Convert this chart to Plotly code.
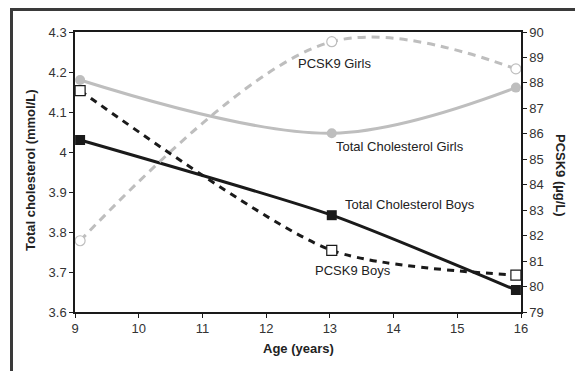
import plotly.graph_objects as go

ages = [9.08, 13.03, 15.92]
tc_boys = [4.03, 3.842, 3.655]
tc_girls = [4.18, 4.047, 4.161]
pcsk9_boys = [87.7, 81.42, 80.45]
pcsk9_girls = [81.8, 89.62, 88.55]

x_ticks = [9, 10, 11, 12, 13, 14, 15, 16]
left_ticks = [3.6, 3.7, 3.8, 3.9, 4.0, 4.1, 4.2, 4.3]
left_labels = ["3.6", "3.7", "3.8", "3.9", "4", "4.1", "4.2", "4.3"]
right_ticks = list(range(79, 91))

BLACK = "#1a1a1a"
GREY = "#bebebe"
FONT = "Liberation Sans, Arial, sans-serif"

# page body offset of 8px is compensated in the margins
W, H = 583, 371
ML, MT, PW, PH = 67, 24, 446, 280
MR = W - ML - PW
MB = H - MT - PH


def px(sx):
    return (sx - 8 - ML) / PW


def py(sy):
    return (MT + PH - (sy - 8)) / PH


fig = go.Figure()

fig.add_trace(go.Scatter(
    x=ages, y=pcsk9_girls, yaxis="y2", mode="lines+markers",
    line=dict(color=GREY, width=3, dash="8px,6px", shape="spline", smoothing=1.0),
    marker=dict(symbol="circle", size=10, color="white", line=dict(color=GREY, width=1.2)),
    showlegend=False))
fig.add_trace(go.Scatter(
    x=ages, y=pcsk9_boys, yaxis="y2", mode="lines+markers",
    line=dict(color=BLACK, width=3, dash="7px,6px", shape="spline", smoothing=0.7),
    marker=dict(symbol="square", size=10, color="white", line=dict(color=BLACK, width=1.2)),
    showlegend=False))
fig.add_trace(go.Scatter(
    x=ages, y=tc_girls, mode="lines+markers",
    line=dict(color=GREY, width=3, shape="spline", smoothing=1.0),
    marker=dict(symbol="circle", size=10, color=GREY),
    showlegend=False))
fig.add_trace(go.Scatter(
    x=ages, y=tc_boys, mode="lines+markers",
    line=dict(color=BLACK, width=3, shape="spline", smoothing=0.6),
    marker=dict(symbol="square", size=10, color=BLACK),
    showlegend=False))

labels = [
    ("PCSK9 Girls", 13.08, 4.222),
    ("Total Cholesterol Girls", 14.1, 4.015),
    ("Total Cholesterol Boys", 14.25, 3.868),
    ("PCSK9 Boys", 13.36, 3.705),
]
for text, lx, ly in labels:
    fig.add_annotation(x=lx, y=ly, xref="x", yref="y", text=text, showarrow=False,
                       xanchor="center", yanchor="middle",
                       font=dict(family=FONT, size=13, color="#222"))

axis_common = dict(showgrid=False, zeroline=False, showline=True, linecolor=BLACK,
                   linewidth=1.5, ticks="outside", ticklen=4, tickcolor=BLACK,
                   automargin=False,
                   tickfont=dict(family=FONT, size=13, color="#333"))

fig.update_layout(
    width=W, height=H,
    margin=dict(l=ML, r=MR, t=MT, b=MB, autoexpand=False),
    paper_bgcolor="white", plot_bgcolor="white",
    xaxis=dict(range=[9, 16], tickvals=x_ticks, mirror=True, **axis_common),
    yaxis=dict(range=[3.6, 4.3], tickvals=left_ticks, ticktext=left_labels, **axis_common),
    yaxis2=dict(range=[79, 90], tickvals=right_ticks, overlaying="y", side="right", **axis_common),
)

title_font = dict(family=FONT, size=13, color="#222")
fig.add_annotation(x=px(298), y=py(348), xref="paper", yref="paper",
                   xanchor="center", yanchor="middle",
                   text="<b>Age (years)</b>", showarrow=False, font=title_font)
fig.add_annotation(x=px(30), y=py(170), xref="paper", yref="paper",
                   xanchor="center", yanchor="middle",
                   text="<b>Total cholesterol (mmol/L)</b>", textangle=-90,
                   showarrow=False, font=title_font)
fig.add_annotation(x=px(561), y=py(175), xref="paper", yref="paper",
                   xanchor="center", yanchor="middle",
                   text="<b>PCSK9 (µg/L)</b>", textangle=90, showarrow=False,
                   font=title_font)

# outer frame (left and top edges, cropped on right/bottom)
fx0, fy0 = px(11.5), py(9.5)
fig.add_shape(type="path", xref="paper", yref="paper",
              path=f"M {fx0},{py(380)} L {fx0},{fy0} L {px(600)},{fy0}",
              line=dict(color="#3a3a3a", width=3))

fig.write_html("out.html")
